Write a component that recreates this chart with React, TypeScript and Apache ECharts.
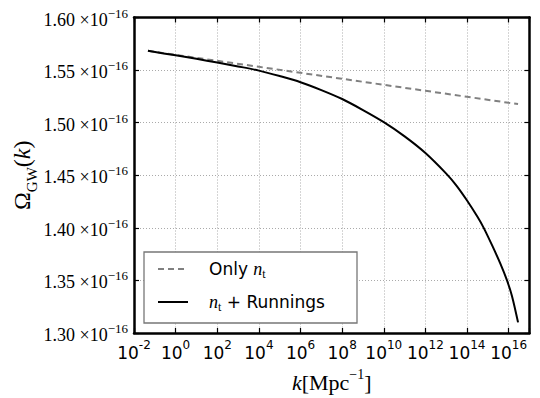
import React, { useEffect, useRef } from "react";
import * as echarts from "echarts";

// x values are log10(k / Mpc^-1); y values are in units of 1e-16
const kExpRunning = [-1.33, 0, 1, 2, 3, 4, 5, 6, 7, 8, 9, 10, 11, 12, 13, 13.5, 14, 14.5, 14.8, 15.2, 15.6, 15.92, 16.16, 16.45];
const omegaRunning = [1.5683, 1.564, 1.5607, 1.5572, 1.5535, 1.5495, 1.5443, 1.5385, 1.531, 1.5225, 1.512, 1.5005, 1.487, 1.4712, 1.4516, 1.44, 1.426, 1.4105, 1.4, 1.3835, 1.366, 1.35, 1.335, 1.3101];
const kExpOnly = [-1.33, 0, 2, 4, 6, 8, 10, 12, 14, 16, 16.45];
const omegaOnly = [1.5683, 1.5645, 1.5588, 1.5531, 1.5474, 1.5417, 1.536, 1.5303, 1.5246, 1.5189, 1.5177];
const xTickExponents = [-2, 0, 2, 4, 6, 8, 10, 12, 14, 16];
const yTicks = [1.3, 1.35, 1.4, 1.45, 1.5, 1.55, 1.6];
const legendLabels = ["Only", "+ Runnings"];

export default function App() {
  const ref = useRef<HTMLDivElement>(null);
  useEffect(() => {
    if (!ref.current) return;
    const chart = echarts.init(ref.current, null, { renderer: "svg" });
    const serif = "'Liberation Serif', 'DejaVu Serif', serif";
    const sans = "'DejaVu Sans', sans-serif";
    const gridLine = () => ({ show: true, showMinLine: false, showMaxLine: false, lineStyle: { color: "#aaaaaa", type: [1, 2], width: 1 } });
    const tick = () => ({ show: true, inside: true, length: 5, lineStyle: { color: "#000000", width: 1.2 } });
    // frame lines placed on the edges through hidden helper axes whose zero sits at a grid edge
    const frame = (idx: number) => ({ show: true, onZero: true, onZeroAxisIndex: idx, lineStyle: { color: "#000000", width: 2.5, type: "solid" } });
    const helper = (min: number, max: number) => ({
      type: "value", min, max, show: false,
      axisLine: { show: false, onZero: false }, axisTick: { show: false }, axisLabel: { show: false }, splitLine: { show: false },
    });
    const option = {
      animation: false,
      grid: {
        left: 134,
        right: 10.5,
        top: 17.5,
        bottom: 65,
        outerBoundsMode: "none",
        containLabel: false,
      },
      xAxis: [
        {
          type: "value",
          min: -2,
          max: 17,
          interval: 2,
          position: "bottom",
          axisLine: frame(2),
          axisTick: tick(),
          splitLine: gridLine(),
          axisLabel: {
            margin: 6,
            formatter: (v: number) =>
              xTickExponents.includes(v) ? `{b|10}{s|${v}}` : "",
            rich: {
              b: { fontFamily: sans, fontSize: 17, color: "#000", lineHeight: 22, verticalAlign: "bottom" },
              s: { fontFamily: sans, fontSize: 12, color: "#000", lineHeight: 12, verticalAlign: "top" },
            },
          },
          name: "{k|k}{t|[Mpc}{e|−1}{t|]}",
          nameLocation: "middle",
          nameGap: 34,
          nameMoveOverlap: false,
          nameTextStyle: {
            rich: {
              k: { fontFamily: serif, fontStyle: "italic", fontSize: 22, color: "#000", lineHeight: 26, verticalAlign: "bottom" },
              t: { fontFamily: serif, fontSize: 22, color: "#000", lineHeight: 26, verticalAlign: "bottom" },
              e: { fontFamily: serif, fontSize: 14, color: "#000", lineHeight: 14, verticalAlign: "top" },
            },
          },
        },
        {
          type: "value",
          min: -2,
          max: 17,
          interval: 2,
          position: "top",
          axisLine: frame(3),
          axisTick: tick(),
          splitLine: { show: false },
          axisLabel: { show: false },
        },
        helper(0, 1),
        helper(-1, 0),
      ],
      yAxis: [
        {
          type: "value",
          min: yTicks[0],
          max: yTicks[yTicks.length - 1],
          interval: 0.05,
          position: "left",
          axisLine: frame(2),
          axisTick: tick(),
          splitLine: gridLine(),
          axisLabel: {
            margin: 6,
            formatter: (v: number) => `{n|${v.toFixed(2)} }{m|×10}{e|−16}`,
            rich: {
              n: { fontFamily: serif, fontSize: 18, color: "#000", lineHeight: 22, verticalAlign: "bottom" },
              m: { fontFamily: serif, fontSize: 18, color: "#000", lineHeight: 22, verticalAlign: "bottom" },
              e: { fontFamily: serif, fontSize: 13, color: "#000", lineHeight: 13, verticalAlign: "top" },
            },
          },
          name: "{o|Ω}{g|GW}{o|(}{k|k}{o|)}",
          nameLocation: "middle",
          nameGap: 95,
          nameRotate: 90,
          nameMoveOverlap: false,
          nameTextStyle: {
            rich: {
              o: { fontFamily: serif, fontSize: 24, color: "#000", lineHeight: 29, verticalAlign: "top" },
              k: { fontFamily: serif, fontStyle: "italic", fontSize: 24, color: "#000", lineHeight: 29, verticalAlign: "top" },
              g: { fontFamily: serif, fontSize: 15, color: "#000", lineHeight: 15, verticalAlign: "bottom" },
            },
          },
        },
        {
          type: "value",
          min: yTicks[0],
          max: yTicks[yTicks.length - 1],
          interval: 0.05,
          position: "right",
          axisLine: frame(3),
          axisTick: tick(),
          splitLine: { show: false },
          axisLabel: { show: false },
        },
        helper(0, 1),
        helper(-1, 0),
      ],
      series: [
        {
          type: "line",
          name: "Only n_t",
          xAxisIndex: 0,
          yAxisIndex: 0,
          data: kExpOnly.map((x, i) => [x, omegaOnly[i]]),
          showSymbol: false,
          lineStyle: { color: "#808080", width: 2, type: [6, 4] },
          z: 3,
        },
        {
          type: "line",
          name: "n_t + Runnings",
          xAxisIndex: 0,
          yAxisIndex: 0,
          data: kExpRunning.map((x, i) => [x, omegaRunning[i]]),
          showSymbol: false,
          smooth: 0.3,
          lineStyle: { color: "#000", width: 2 },
          z: 4,
        },
      ],
      graphic: [
        {
          type: "rect",
          shape: { x: 144, y: 252, width: 213, height: 71 },
          style: { fill: "#fff", stroke: "#777", lineWidth: 1.3 },
          z: 10,
        },
        {
          type: "line",
          shape: { x1: 158, y1: 269, x2: 188, y2: 269 },
          style: { stroke: "#808080", lineWidth: 2, lineDash: [6, 4] },
          z: 11,
        },
        {
          type: "line",
          shape: { x1: 158, y1: 302, x2: 188, y2: 302 },
          style: { stroke: "#000", lineWidth: 2 },
          z: 11,
        },
        {
          type: "text",
          x: 209,
          y: 269,
          style: {
            text: `{a|${legendLabels[0]} }{n|n}{t|t}`,
            verticalAlign: "middle",
            rich: {
              a: { fontFamily: sans, fontSize: 17, fill: "#000", lineHeight: 22, verticalAlign: "middle" },
              n: { fontFamily: serif, fontStyle: "italic", fontSize: 18, fill: "#000", lineHeight: 22, verticalAlign: "middle" },
              t: { fontFamily: serif, fontSize: 12, fill: "#000", lineHeight: 12, verticalAlign: "bottom" },
            },
          },
          z: 11,
        },
        {
          type: "text",
          x: 209,
          y: 302,
          style: {
            text: `{n|n}{t|t}{a| ${legendLabels[1]}}`,
            verticalAlign: "middle",
            rich: {
              a: { fontFamily: sans, fontSize: 17, fill: "#000", lineHeight: 22, verticalAlign: "middle" },
              n: { fontFamily: serif, fontStyle: "italic", fontSize: 18, fill: "#000", lineHeight: 22, verticalAlign: "middle" },
              t: { fontFamily: serif, fontSize: 12, fill: "#000", lineHeight: 12, verticalAlign: "bottom" },
            },
          },
          z: 11,
        },
      ],
    };
    chart.setOption(option as any);
    return () => chart.dispose();
  }, []);
  return <div ref={ref} style={{ width: 540, height: 398, position: "absolute", left: 0, top: 0 }} />;
}
